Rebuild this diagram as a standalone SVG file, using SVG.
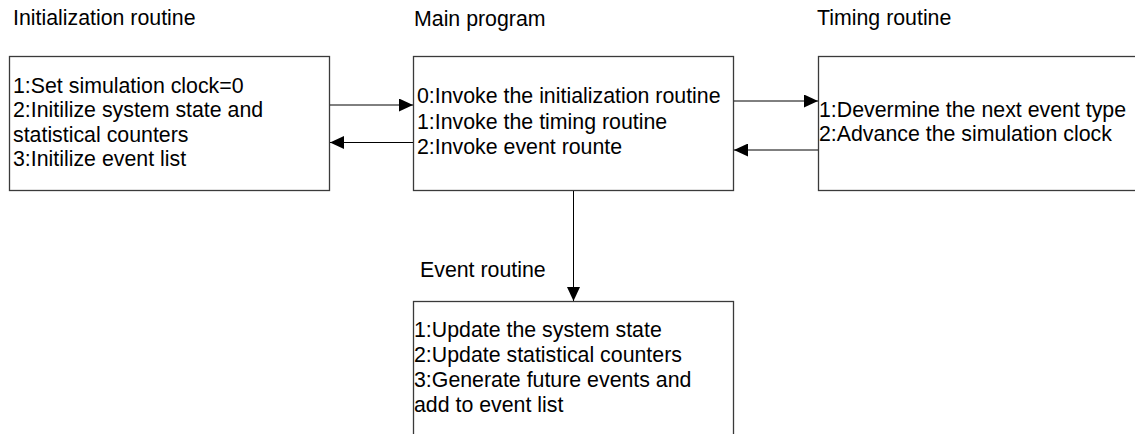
<svg xmlns="http://www.w3.org/2000/svg" width="1135" height="434" viewBox="0 0 1135 434">
<style>
text{font-family:"Liberation Sans",Arial,sans-serif;font-size:21.33px;fill:#000}
.box{fill:#fff;stroke:#3a3a3a;stroke-width:1.3}
.conn{fill:none;stroke:#000;stroke-width:1}
</style>
<defs>
<marker id="ah" markerWidth="14" markerHeight="13" refX="14" refY="6.5" orient="auto" markerUnits="userSpaceOnUse">
<path d="M0,0 L14,6.5 L0,13 Z" fill="#000"/>
</marker>
</defs>
<rect width="1135" height="434" fill="#fff"/>
<g id="init">
<text x="13" y="25">Initialization routine</text>
<rect class="box" x="9.5" y="56.5" width="320" height="134"/>
<text x="13" y="92.5">1:Set simulation clock=0</text>
<text x="13" y="117">2:Initilize system state and</text>
<text x="13" y="141.5">statistical counters</text>
<text x="13" y="166">3:Initilize event list</text>
</g>
<g id="main">
<text x="414" y="25.5">Main program</text>
<rect class="box" x="413.5" y="56.5" width="320" height="134"/>
<text x="417" y="103.3">0:Invoke the initialization routine</text>
<text x="417" y="129">1:Invoke the timing routine</text>
<text x="417" y="154">2:Invoke event rounte</text>
</g>
<g id="timing">
<text x="817" y="25">Timing routine</text>
<rect class="box" x="818.5" y="56.5" width="330" height="134"/>
<text x="819" y="116.7">1:Devermine the next event type</text>
<text x="819" y="140.7">2:Advance the simulation clock</text>
</g>
<g id="event">
<text x="420" y="276.7">Event routine</text>
<rect class="box" x="413.5" y="301.5" width="320" height="150"/>
<text x="414" y="336.7">1:Update the system state</text>
<text x="414" y="361.7">2:Update statistical counters</text>
<text x="414" y="386.7">3:Generate future events and</text>
<text x="414" y="411.7">add to event list</text>
</g>
<g id="connectors">
<line class="conn" x1="330" y1="105" x2="413" y2="105" marker-end="url(#ah)"/>
<line class="conn" x1="413" y1="142.5" x2="330" y2="142.5" marker-end="url(#ah)"/>
<line class="conn" x1="734" y1="101" x2="818" y2="101" marker-end="url(#ah)"/>
<line class="conn" x1="818" y1="150" x2="734" y2="150" marker-end="url(#ah)"/>
<line class="conn" x1="573.5" y1="191" x2="573.5" y2="301" marker-end="url(#ah)"/>
</g>
</svg>
